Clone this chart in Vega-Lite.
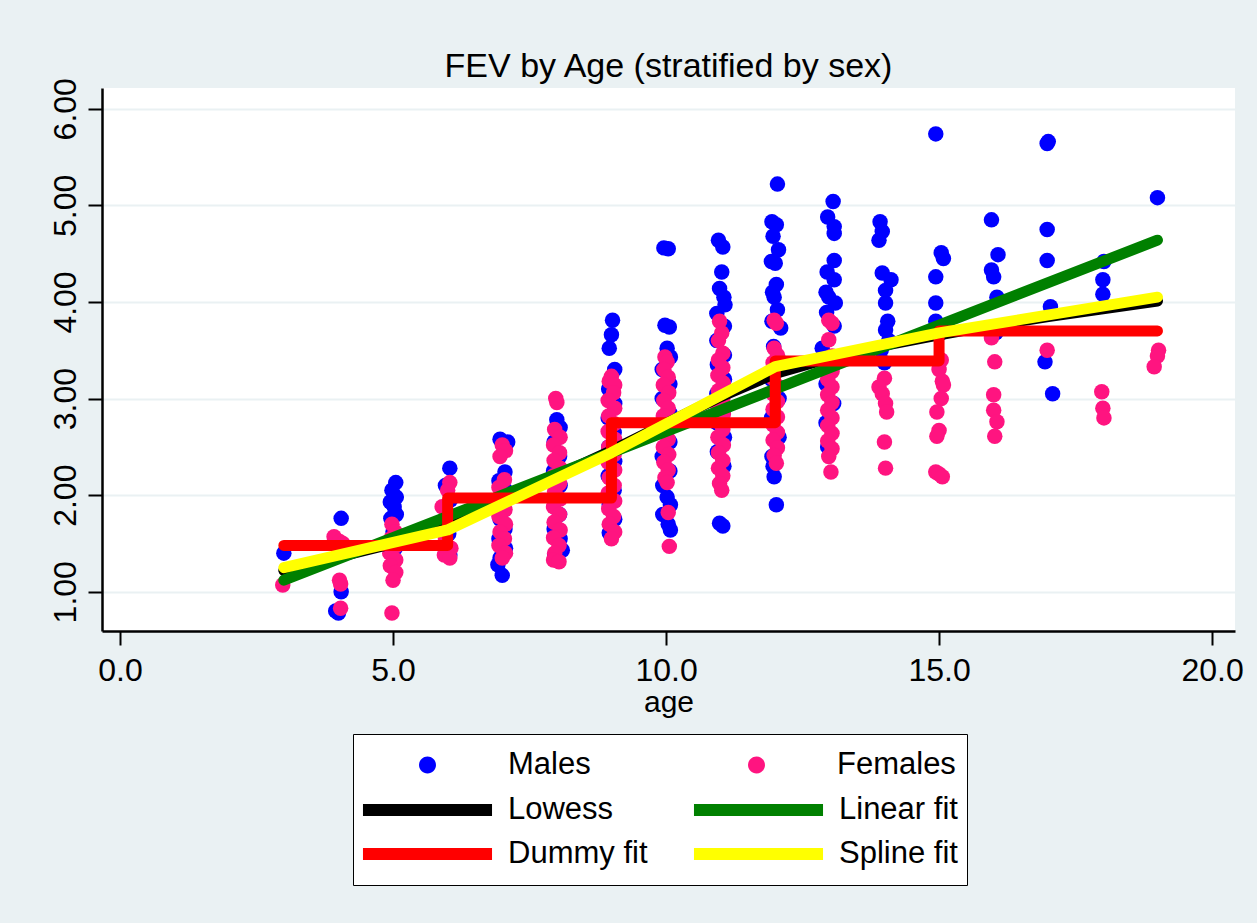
{
  "$schema": "https://vega.github.io/schema/vega-lite/v6.json",
  "width": 1133,
  "height": 543,
  "autosize": "none",
  "padding": {"left": 102, "top": 88, "right": 22, "bottom": 292},
  "background": "#EAF1F3",
  "title": {"text": "FEV by Age (stratified by sex)", "fontSize": 34, "font": "Liberation Sans", "fontWeight": "normal", "color": "black", "anchor": "middle", "frame": "group", "baseline": "alphabetic", "offset": -33},
  "config": {
    "view": {"fill": "white", "stroke": null},
    "axis": {"labelFont": "Liberation Sans", "titleFont": "Liberation Sans", "labelColor": "black", "titleColor": "black", "domainColor": "black", "domainWidth": 2.5, "tickColor": "black", "tickWidth": 2, "tickSize": 14, "titleFontWeight": "normal"}
  },
  "resolve": {"scale": {"color": "independent"}, "legend": {"color": "independent"}},
  "datasets": {
    "pts": [
      {"a":3.0,"f":1.40,"s":"Males"},
      {"a":4.05,"f":1.76,"s":"Males"},{"a":3.95,"f":1.52,"s":"Males"},{"a":4.05,"f":1.00,"s":"Males"},{"a":4.0,"f":0.78,"s":"Males"},{"a":3.95,"f":0.80,"s":"Males"},
      {"a":5.05,"f":2.13,"s":"Males"},{"a":4.98,"f":2.05,"s":"Males"},{"a":5.06,"f":1.98,"s":"Males"},{"a":4.95,"f":1.93,"s":"Males"},{"a":5.02,"f":1.88,"s":"Males"},{"a":5.06,"f":1.80,"s":"Males"},{"a":4.96,"f":1.76,"s":"Males"},{"a":5.0,"f":1.62,"s":"Males"},{"a":5.04,"f":1.45,"s":"Males"},
      {"a":6.04,"f":2.28,"s":"Males"},{"a":5.96,"f":2.10,"s":"Males"},{"a":6.05,"f":1.95,"s":"Males"},{"a":5.95,"f":1.75,"s":"Males"},{"a":6.02,"f":1.60,"s":"Males"},{"a":5.98,"f":1.45,"s":"Males"},{"a":6.04,"f":1.38,"s":"Males"},
      {"a":6.96,"f":2.58,"s":"Males"},{"a":7.1,"f":2.55,"s":"Males"},{"a":7.05,"f":2.24,"s":"Males"},{"a":6.94,"f":2.15,"s":"Males"},{"a":7.06,"f":2.05,"s":"Males"},{"a":6.95,"f":1.95,"s":"Males"},{"a":7.04,"f":1.85,"s":"Males"},{"a":6.96,"f":1.75,"s":"Males"},{"a":7.05,"f":1.65,"s":"Males"},{"a":6.94,"f":1.55,"s":"Males"},{"a":7.06,"f":1.45,"s":"Males"},{"a":6.96,"f":1.35,"s":"Males"},{"a":6.92,"f":1.28,"s":"Males"},{"a":7.0,"f":1.17,"s":"Males"},
      {"a":8.0,"f":2.78,"s":"Males"},{"a":8.06,"f":2.70,"s":"Males"},{"a":7.95,"f":2.55,"s":"Males"},{"a":8.05,"f":2.40,"s":"Males"},{"a":7.94,"f":2.25,"s":"Males"},{"a":8.06,"f":2.10,"s":"Males"},{"a":7.96,"f":1.95,"s":"Males"},{"a":8.05,"f":1.80,"s":"Males"},{"a":7.95,"f":1.65,"s":"Males"},{"a":8.06,"f":1.55,"s":"Males"},{"a":8.1,"f":1.43,"s":"Males"},{"a":7.96,"f":1.38,"s":"Males"},
      {"a":9.02,"f":3.81,"s":"Males"},{"a":9.0,"f":3.66,"s":"Males"},{"a":8.96,"f":3.52,"s":"Males"},{"a":9.06,"f":3.30,"s":"Males"},{"a":8.95,"f":3.10,"s":"Males"},{"a":9.06,"f":2.95,"s":"Males"},{"a":8.94,"f":2.80,"s":"Males"},{"a":9.05,"f":2.65,"s":"Males"},{"a":8.95,"f":2.50,"s":"Males"},{"a":9.06,"f":2.35,"s":"Males"},{"a":8.94,"f":2.20,"s":"Males"},{"a":9.05,"f":2.05,"s":"Males"},{"a":8.96,"f":1.90,"s":"Males"},{"a":9.06,"f":1.75,"s":"Males"},{"a":8.96,"f":1.61,"s":"Males"},
      {"a":9.96,"f":4.56,"s":"Males"},{"a":10.04,"f":4.55,"s":"Males"},{"a":9.98,"f":3.76,"s":"Males"},{"a":10.06,"f":3.74,"s":"Males"},{"a":10.02,"f":3.52,"s":"Males"},{"a":10.08,"f":3.43,"s":"Males"},{"a":9.93,"f":3.30,"s":"Males"},{"a":10.07,"f":3.15,"s":"Males"},{"a":9.93,"f":3.00,"s":"Males"},{"a":10.07,"f":2.85,"s":"Males"},{"a":9.93,"f":2.70,"s":"Males"},{"a":10.07,"f":2.55,"s":"Males"},{"a":9.93,"f":2.40,"s":"Males"},{"a":10.07,"f":2.25,"s":"Males"},{"a":9.94,"f":2.10,"s":"Males"},{"a":10.02,"f":1.98,"s":"Males"},{"a":10.08,"f":1.90,"s":"Males"},{"a":9.94,"f":1.80,"s":"Males"},{"a":10.04,"f":1.70,"s":"Males"},{"a":10.08,"f":1.64,"s":"Males"},
      {"a":10.96,"f":4.64,"s":"Males"},{"a":11.04,"f":4.57,"s":"Males"},{"a":11.02,"f":4.31,"s":"Males"},{"a":10.98,"f":4.14,"s":"Males"},{"a":11.06,"f":4.05,"s":"Males"},{"a":11.08,"f":3.97,"s":"Males"},{"a":10.93,"f":3.88,"s":"Males"},{"a":11.07,"f":3.75,"s":"Males"},{"a":10.93,"f":3.60,"s":"Males"},{"a":11.07,"f":3.45,"s":"Males"},{"a":10.94,"f":3.35,"s":"Males"},{"a":11.07,"f":3.20,"s":"Males"},{"a":10.93,"f":3.05,"s":"Males"},{"a":11.07,"f":2.90,"s":"Males"},{"a":10.93,"f":2.75,"s":"Males"},{"a":11.07,"f":2.60,"s":"Males"},{"a":10.94,"f":2.45,"s":"Males"},{"a":11.06,"f":2.30,"s":"Males"},{"a":10.98,"f":1.71,"s":"Males"},{"a":11.04,"f":1.68,"s":"Males"},
      {"a":12.04,"f":5.22,"s":"Males"},{"a":11.94,"f":4.83,"s":"Males"},{"a":12.02,"f":4.80,"s":"Males"},{"a":11.96,"f":4.68,"s":"Males"},{"a":12.06,"f":4.54,"s":"Males"},{"a":11.93,"f":4.42,"s":"Males"},{"a":12.0,"f":4.40,"s":"Males"},{"a":12.02,"f":4.18,"s":"Males"},{"a":11.95,"f":4.10,"s":"Males"},{"a":11.98,"f":4.05,"s":"Males"},{"a":12.04,"f":3.92,"s":"Males"},{"a":11.94,"f":3.80,"s":"Males"},{"a":12.1,"f":3.73,"s":"Males"},{"a":11.97,"f":3.54,"s":"Males"},{"a":12.07,"f":3.40,"s":"Males"},{"a":11.93,"f":3.20,"s":"Males"},{"a":12.07,"f":3.00,"s":"Males"},{"a":11.93,"f":2.80,"s":"Males"},{"a":12.07,"f":2.60,"s":"Males"},{"a":11.94,"f":2.40,"s":"Males"},{"a":11.96,"f":2.30,"s":"Males"},{"a":11.98,"f":2.19,"s":"Males"},{"a":12.02,"f":1.90,"s":"Males"},
      {"a":13.06,"f":5.04,"s":"Males"},{"a":12.96,"f":4.88,"s":"Males"},{"a":13.08,"f":4.78,"s":"Males"},{"a":13.08,"f":4.71,"s":"Males"},{"a":13.08,"f":4.43,"s":"Males"},{"a":12.95,"f":4.31,"s":"Males"},{"a":13.08,"f":4.23,"s":"Males"},{"a":12.93,"f":4.10,"s":"Males"},{"a":12.98,"f":4.05,"s":"Males"},{"a":13.1,"f":3.99,"s":"Males"},{"a":12.94,"f":3.89,"s":"Males"},{"a":13.08,"f":3.75,"s":"Males"},{"a":12.86,"f":3.52,"s":"Males"},{"a":13.07,"f":3.35,"s":"Males"},{"a":12.93,"f":3.15,"s":"Males"},{"a":13.07,"f":2.95,"s":"Males"},{"a":12.93,"f":2.75,"s":"Males"},{"a":12.96,"f":2.50,"s":"Males"},
      {"a":13.92,"f":4.83,"s":"Males"},{"a":13.96,"f":4.73,"s":"Males"},{"a":13.9,"f":4.64,"s":"Males"},{"a":13.96,"f":4.30,"s":"Males"},{"a":14.12,"f":4.23,"s":"Males"},{"a":14.02,"f":4.12,"s":"Males"},{"a":14.02,"f":3.99,"s":"Males"},{"a":14.06,"f":3.80,"s":"Males"},{"a":14.02,"f":3.71,"s":"Males"},{"a":14.08,"f":3.60,"s":"Males"},{"a":13.94,"f":3.50,"s":"Males"},{"a":14.0,"f":3.37,"s":"Males"},
      {"a":14.94,"f":5.74,"s":"Males"},{"a":15.04,"f":4.51,"s":"Males"},{"a":15.08,"f":4.45,"s":"Males"},{"a":14.94,"f":4.26,"s":"Males"},{"a":14.94,"f":3.99,"s":"Males"},{"a":14.94,"f":3.80,"s":"Males"},{"a":15.04,"f":3.68,"s":"Males"},
      {"a":15.96,"f":4.85,"s":"Males"},{"a":16.08,"f":4.49,"s":"Males"},{"a":15.96,"f":4.33,"s":"Males"},{"a":16.0,"f":4.26,"s":"Males"},{"a":16.06,"f":4.05,"s":"Males"},{"a":16.04,"f":3.68,"s":"Males"},
      {"a":16.98,"f":5.64,"s":"Males"},{"a":17.0,"f":5.66,"s":"Males"},{"a":16.98,"f":4.75,"s":"Males"},{"a":16.98,"f":4.43,"s":"Males"},{"a":17.04,"f":3.95,"s":"Males"},{"a":16.94,"f":3.38,"s":"Males"},{"a":17.08,"f":3.05,"s":"Males"},
      {"a":18.02,"f":4.42,"s":"Males"},{"a":18.0,"f":4.23,"s":"Males"},{"a":18.0,"f":4.08,"s":"Males"},
      {"a":19.0,"f":5.08,"s":"Males"},
      {"a":2.98,"f":1.07,"s":"Females"},
      {"a":3.92,"f":1.57,"s":"Females"},{"a":4.02,"f":1.52,"s":"Females"},{"a":4.08,"f":1.50,"s":"Females"},{"a":4.02,"f":1.12,"s":"Females"},{"a":4.04,"f":1.08,"s":"Females"},{"a":4.04,"f":0.83,"s":"Females"},
      {"a":4.98,"f":1.70,"s":"Females"},{"a":5.04,"f":1.62,"s":"Females"},{"a":4.96,"f":1.55,"s":"Females"},{"a":5.06,"f":1.48,"s":"Females"},{"a":4.94,"f":1.40,"s":"Females"},{"a":5.05,"f":1.33,"s":"Females"},{"a":4.95,"f":1.27,"s":"Females"},{"a":5.05,"f":1.20,"s":"Females"},{"a":5.0,"f":1.12,"s":"Females"},{"a":4.98,"f":0.78,"s":"Females"},
      {"a":6.04,"f":2.13,"s":"Females"},{"a":6.0,"f":2.05,"s":"Females"},{"a":5.9,"f":1.88,"s":"Females"},{"a":6.02,"f":1.70,"s":"Females"},{"a":5.96,"f":1.55,"s":"Females"},{"a":6.06,"f":1.45,"s":"Females"},{"a":5.94,"f":1.38,"s":"Females"},{"a":6.04,"f":1.35,"s":"Females"},
      {"a":7.0,"f":2.52,"s":"Females"},{"a":7.06,"f":2.46,"s":"Females"},{"a":6.96,"f":2.40,"s":"Females"},{"a":7.04,"f":2.16,"s":"Females"},{"a":6.94,"f":2.08,"s":"Females"},{"a":7.06,"f":2.00,"s":"Females"},{"a":6.96,"f":1.92,"s":"Females"},{"a":7.05,"f":1.85,"s":"Females"},{"a":6.94,"f":1.78,"s":"Females"},{"a":7.06,"f":1.70,"s":"Females"},{"a":6.96,"f":1.62,"s":"Females"},{"a":7.04,"f":1.55,"s":"Females"},{"a":6.94,"f":1.48,"s":"Females"},{"a":7.06,"f":1.40,"s":"Females"},{"a":7.0,"f":1.35,"s":"Females"},
      {"a":7.98,"f":3.00,"s":"Females"},{"a":8.0,"f":2.96,"s":"Females"},{"a":7.96,"f":2.68,"s":"Females"},{"a":8.06,"f":2.60,"s":"Females"},{"a":7.94,"f":2.52,"s":"Females"},{"a":8.05,"f":2.44,"s":"Females"},{"a":7.95,"f":2.36,"s":"Females"},{"a":8.06,"f":2.28,"s":"Females"},{"a":7.94,"f":2.20,"s":"Females"},{"a":8.05,"f":2.12,"s":"Females"},{"a":7.96,"f":2.04,"s":"Females"},{"a":8.06,"f":1.96,"s":"Females"},{"a":7.94,"f":1.88,"s":"Females"},{"a":8.05,"f":1.80,"s":"Females"},{"a":7.95,"f":1.72,"s":"Females"},{"a":8.06,"f":1.64,"s":"Females"},{"a":7.94,"f":1.56,"s":"Females"},{"a":8.04,"f":1.48,"s":"Females"},{"a":7.96,"f":1.40,"s":"Females"},{"a":7.94,"f":1.33,"s":"Females"},{"a":8.04,"f":1.31,"s":"Females"},
      {"a":9.0,"f":3.23,"s":"Females"},{"a":8.96,"f":3.18,"s":"Females"},{"a":9.06,"f":3.14,"s":"Females"},{"a":9.04,"f":3.06,"s":"Females"},{"a":8.94,"f":2.98,"s":"Females"},{"a":9.06,"f":2.90,"s":"Females"},{"a":8.95,"f":2.82,"s":"Females"},{"a":9.05,"f":2.74,"s":"Females"},{"a":8.94,"f":2.66,"s":"Females"},{"a":9.06,"f":2.58,"s":"Females"},{"a":8.95,"f":2.50,"s":"Females"},{"a":9.05,"f":2.42,"s":"Females"},{"a":8.94,"f":2.34,"s":"Females"},{"a":9.06,"f":2.26,"s":"Females"},{"a":8.96,"f":2.18,"s":"Females"},{"a":9.05,"f":2.10,"s":"Females"},{"a":8.94,"f":2.02,"s":"Females"},{"a":9.06,"f":1.94,"s":"Females"},{"a":8.95,"f":1.86,"s":"Females"},{"a":9.04,"f":1.78,"s":"Females"},{"a":8.96,"f":1.70,"s":"Females"},{"a":9.06,"f":1.62,"s":"Females"},{"a":9.0,"f":1.55,"s":"Females"},
      {"a":9.98,"f":3.43,"s":"Females"},{"a":10.02,"f":3.38,"s":"Females"},{"a":9.96,"f":3.30,"s":"Females"},{"a":10.04,"f":3.22,"s":"Females"},{"a":9.95,"f":3.14,"s":"Females"},{"a":10.05,"f":3.06,"s":"Females"},{"a":9.96,"f":2.98,"s":"Females"},{"a":10.04,"f":2.90,"s":"Females"},{"a":9.95,"f":2.82,"s":"Females"},{"a":10.05,"f":2.74,"s":"Females"},{"a":9.96,"f":2.66,"s":"Females"},{"a":10.04,"f":2.58,"s":"Females"},{"a":9.95,"f":2.50,"s":"Females"},{"a":10.05,"f":2.42,"s":"Females"},{"a":9.96,"f":2.34,"s":"Females"},{"a":10.04,"f":2.26,"s":"Females"},{"a":9.98,"f":2.18,"s":"Females"},{"a":10.02,"f":2.13,"s":"Females"},{"a":10.04,"f":1.82,"s":"Females"},{"a":10.06,"f":1.47,"s":"Females"},
      {"a":10.98,"f":3.80,"s":"Females"},{"a":11.02,"f":3.68,"s":"Females"},{"a":10.96,"f":3.60,"s":"Females"},{"a":11.04,"f":3.47,"s":"Females"},{"a":10.96,"f":3.40,"s":"Females"},{"a":11.04,"f":3.32,"s":"Females"},{"a":10.95,"f":3.24,"s":"Females"},{"a":11.05,"f":3.16,"s":"Females"},{"a":10.96,"f":3.08,"s":"Females"},{"a":11.04,"f":3.00,"s":"Females"},{"a":10.95,"f":2.92,"s":"Females"},{"a":11.05,"f":2.84,"s":"Females"},{"a":10.96,"f":2.76,"s":"Females"},{"a":11.04,"f":2.68,"s":"Females"},{"a":10.95,"f":2.60,"s":"Females"},{"a":11.05,"f":2.52,"s":"Females"},{"a":10.96,"f":2.44,"s":"Females"},{"a":11.04,"f":2.36,"s":"Females"},{"a":10.96,"f":2.28,"s":"Females"},{"a":11.04,"f":2.20,"s":"Females"},{"a":10.98,"f":2.12,"s":"Females"},{"a":11.02,"f":2.05,"s":"Females"},
      {"a":11.98,"f":3.81,"s":"Females"},{"a":12.02,"f":3.78,"s":"Females"},{"a":11.98,"f":3.52,"s":"Females"},{"a":12.04,"f":3.45,"s":"Females"},{"a":11.96,"f":3.37,"s":"Females"},{"a":12.04,"f":3.29,"s":"Females"},{"a":11.96,"f":3.21,"s":"Females"},{"a":12.04,"f":3.13,"s":"Females"},{"a":11.96,"f":3.05,"s":"Females"},{"a":12.04,"f":2.97,"s":"Females"},{"a":11.96,"f":2.89,"s":"Females"},{"a":12.04,"f":2.81,"s":"Females"},{"a":11.96,"f":2.73,"s":"Females"},{"a":12.04,"f":2.65,"s":"Females"},{"a":11.96,"f":2.57,"s":"Females"},{"a":12.04,"f":2.49,"s":"Females"},{"a":11.98,"f":2.41,"s":"Females"},{"a":12.02,"f":2.33,"s":"Females"},
      {"a":12.98,"f":3.81,"s":"Females"},{"a":13.04,"f":3.78,"s":"Females"},{"a":12.98,"f":3.61,"s":"Females"},{"a":13.04,"f":3.44,"s":"Females"},{"a":12.96,"f":3.36,"s":"Females"},{"a":13.04,"f":3.28,"s":"Females"},{"a":12.96,"f":3.20,"s":"Females"},{"a":13.04,"f":3.12,"s":"Females"},{"a":12.96,"f":3.04,"s":"Females"},{"a":13.04,"f":2.96,"s":"Females"},{"a":12.96,"f":2.88,"s":"Females"},{"a":13.04,"f":2.80,"s":"Females"},{"a":12.96,"f":2.72,"s":"Females"},{"a":13.04,"f":2.64,"s":"Females"},{"a":12.96,"f":2.56,"s":"Females"},{"a":13.04,"f":2.48,"s":"Females"},{"a":12.98,"f":2.40,"s":"Females"},{"a":13.02,"f":2.24,"s":"Females"},
      {"a":14.0,"f":3.21,"s":"Females"},{"a":13.9,"f":3.12,"s":"Females"},{"a":13.96,"f":3.05,"s":"Females"},{"a":14.02,"f":2.95,"s":"Females"},{"a":14.04,"f":2.86,"s":"Females"},{"a":14.0,"f":2.55,"s":"Females"},{"a":14.02,"f":2.28,"s":"Females"},
      {"a":15.04,"f":3.40,"s":"Females"},{"a":15.0,"f":3.30,"s":"Females"},{"a":15.06,"f":3.18,"s":"Females"},{"a":15.08,"f":3.14,"s":"Females"},{"a":15.04,"f":3.00,"s":"Females"},{"a":14.96,"f":2.86,"s":"Females"},{"a":15.0,"f":2.67,"s":"Females"},{"a":14.96,"f":2.61,"s":"Females"},{"a":14.94,"f":2.24,"s":"Females"},{"a":15.0,"f":2.22,"s":"Females"},{"a":15.06,"f":2.19,"s":"Females"},
      {"a":15.96,"f":3.63,"s":"Females"},{"a":16.02,"f":3.38,"s":"Females"},{"a":16.0,"f":3.04,"s":"Females"},{"a":16.0,"f":2.88,"s":"Females"},{"a":16.06,"f":2.76,"s":"Females"},{"a":16.02,"f":2.61,"s":"Females"},
      {"a":16.98,"f":3.50,"s":"Females"},
      {"a":17.98,"f":3.07,"s":"Females"},{"a":18.0,"f":2.90,"s":"Females"},{"a":18.02,"f":2.80,"s":"Females"},
      {"a":19.02,"f":3.50,"s":"Females"},{"a":19.0,"f":3.44,"s":"Females"},{"a":18.94,"f":3.33,"s":"Females"}
    ],
    "lowess": [
      {"a":3,"f":1.22,"s":"Lowess","o":1},{"a":4,"f":1.36,"s":"Lowess","o":2},{"a":5,"f":1.50,"s":"Lowess","o":3},{"a":6,"f":1.66,"s":"Lowess","o":4},{"a":7,"f":1.92,"s":"Lowess","o":5},{"a":8,"f":2.20,"s":"Lowess","o":6},{"a":9,"f":2.46,"s":"Lowess","o":7},{"a":10,"f":2.74,"s":"Lowess","o":8},{"a":11,"f":3.02,"s":"Lowess","o":9},{"a":12,"f":3.26,"s":"Lowess","o":10},{"a":13,"f":3.42,"s":"Lowess","o":11},{"a":14,"f":3.55,"s":"Lowess","o":12},{"a":15,"f":3.66,"s":"Lowess","o":13},{"a":16,"f":3.76,"s":"Lowess","o":14},{"a":17,"f":3.85,"s":"Lowess","o":15},{"a":18,"f":3.93,"s":"Lowess","o":16},{"a":19,"f":4.01,"s":"Lowess","o":17}
    ],
    "linear": [
      {"a":3,"f":1.12,"s":"Linear fit","o":1},{"a":19,"f":4.64,"s":"Linear fit","o":2}
    ],
    "dummy": [
      {"a":3,"f":1.48,"s":"Dummy fit","o":1},{"a":6,"f":1.48,"s":"Dummy fit","o":2},{"a":6,"f":1.97,"s":"Dummy fit","o":3},{"a":9,"f":1.97,"s":"Dummy fit","o":4},{"a":9,"f":2.75,"s":"Dummy fit","o":5},{"a":12,"f":2.75,"s":"Dummy fit","o":6},{"a":12,"f":3.39,"s":"Dummy fit","o":7},{"a":15,"f":3.39,"s":"Dummy fit","o":8},{"a":15,"f":3.70,"s":"Dummy fit","o":9},{"a":19,"f":3.70,"s":"Dummy fit","o":10}
    ],
    "spline": [
      {"a":3,"f":1.25,"s":"Spline fit","o":1},{"a":6,"f":1.64,"s":"Spline fit","o":2},{"a":9,"f":2.44,"s":"Spline fit","o":3},{"a":12,"f":3.33,"s":"Spline fit","o":4},{"a":15,"f":3.68,"s":"Spline fit","o":5},{"a":19,"f":4.05,"s":"Spline fit","o":6}
    ]
  },
  "layer": [
    {
      "data": {"name": "pts"},
      "mark": {"type": "circle", "size": 240, "opacity": 1},
      "encoding": {
        "x": {"field": "a", "type": "quantitative", "scale": {"domain": [-0.33, 20.42], "nice": false, "zero": false},
              "axis": {"values": [0, 5, 10, 15, 20], "format": ".1f", "title": "age", "grid": false, "labelFontSize": 32, "labelPadding": 10, "titleFontSize": 30, "titlePadding": 1}},
        "y": {"field": "f", "type": "quantitative", "scale": {"domain": [0.594, 6.215], "nice": false, "zero": false},
              "axis": {"values": [1, 2, 3, 4, 5, 6], "format": ".2f", "title": null, "grid": true, "gridColor": "#EAF1F3", "gridWidth": 2, "labelAngle": 270, "labelAlign": "center", "labelBaseline": "alphabetic", "labelFontSize": 32, "labelPadding": 13}},
        "color": {"field": "s", "type": "nominal",
                  "scale": {"domain": ["Males", "Females"], "range": ["#0000FF", "#FF1480"]},
                  "legend": {"orient": "none", "legendX": 251, "legendY": 646, "direction": "horizontal", "columns": 2, "title": null, "padding": 9, "zindex": 2,
                             "labelFont": "Liberation Sans", "labelFontSize": 31, "labelColor": "black", "labelOffset": 16, "columnPadding": 100, "rowPadding": 0, "clipHeight": 44,
                             "symbolSize": 13689, "symbolStrokeWidth": 12, "symbolStrokeColor": "transparent", "symbolOffset": 1, "symbolOpacity": 1,
                             "symbolType": "M0.145,0A0.145,0.145,0,1,1,-0.145,0A0.145,0.145,0,1,1,0.145,0Z"}}
      }
    },
    {
      "layer": [
        {
          "data": {"name": "lowess"},
          "mark": {"type": "line", "strokeWidth": 11, "strokeCap": "round", "strokeJoin": "round"},
          "encoding": {"x": {"field": "a", "type": "quantitative"}, "y": {"field": "f", "type": "quantitative"},
                       "color": {"field": "s", "type": "nominal",
                                 "scale": {"domain": ["Lowess", "Linear fit", "Dummy fit", "Spline fit"], "range": ["#000000", "#008000", "#FF0000", "#FFFF00"]},
                                 "legend": {"orient": "none", "legendX": 251, "legendY": 646, "direction": "horizontal", "columns": 2, "zindex": 1,
                                            "title": "\u00a0",
                                            "titleFont": "Liberation Sans", "titleFontSize": 40, "titlePadding": 5, "titleColor": "white",
                                            "fillColor": "white", "strokeColor": "black", "padding": 9,
                                            "labelFont": "Liberation Sans", "labelFontSize": 31, "labelColor": "black", "labelOffset": 16, "columnPadding": 45, "rowPadding": 0, "clipHeight": 44,
                                            "symbolSize": 13689, "symbolStrokeWidth": 12, "symbolOffset": 1,
                                            "symbolType": "M-1.103,0L1.103,0"}},
                       "order": {"field": "o"}}
        },
        {
          "data": {"name": "linear"},
          "mark": {"type": "line", "strokeWidth": 11, "strokeCap": "round", "strokeJoin": "round"},
          "encoding": {"x": {"field": "a", "type": "quantitative"}, "y": {"field": "f", "type": "quantitative"}, "color": {"field": "s", "type": "nominal", "legend": null}, "order": {"field": "o"}}
        },
        {
          "data": {"name": "dummy"},
          "mark": {"type": "line", "strokeWidth": 11, "strokeCap": "round", "strokeJoin": "round"},
          "encoding": {"x": {"field": "a", "type": "quantitative"}, "y": {"field": "f", "type": "quantitative"}, "color": {"field": "s", "type": "nominal", "legend": null}, "order": {"field": "o"}}
        },
        {
          "data": {"name": "spline"},
          "mark": {"type": "line", "strokeWidth": 11, "strokeCap": "round", "strokeJoin": "round"},
          "encoding": {"x": {"field": "a", "type": "quantitative"}, "y": {"field": "f", "type": "quantitative"}, "color": {"field": "s", "type": "nominal", "legend": null}, "order": {"field": "o"}}
        }
      ]
    }
  ]
}
